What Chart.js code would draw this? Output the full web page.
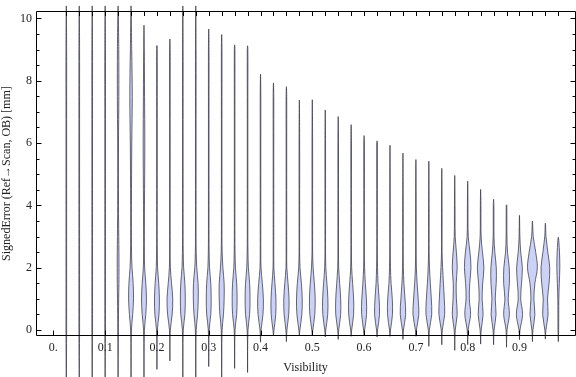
<!DOCTYPE html>
<html>
<head>
<meta charset="utf-8">
<script src="https://cdn.jsdelivr.net/npm/chart.js@4.4.1/dist/chart.umd.min.js"></script>
<style>
  body { margin: 0; background: #fff; }
</style>
</head>
<body>
<canvas id="violinChart" width="576" height="377"></canvas>
<script>
// violin centres along Visibility
const positions = [0.025, 0.05, 0.075, 0.1, 0.125, 0.15, 0.175, 0.2, 0.225, 0.25,
  0.275, 0.3, 0.325, 0.35, 0.375, 0.4, 0.425, 0.45, 0.475, 0.5,
  0.525, 0.55, 0.575, 0.6, 0.625, 0.65, 0.675, 0.7, 0.725, 0.75,
  0.775, 0.8, 0.825, 0.85, 0.875, 0.9, 0.925, 0.95, 0.975];

// top / bottom of each violin (mm)
const maxVals = [10.4, 10.4, 10.4, 10.4, 10.4, 10.4, 9.78, 9.13, 9.34, 10.4,
  10.4, 9.66, 9.48, 9.15, 9.12, 8.21, 7.93, 7.81, 7.38, 7.39,
  7.06, 6.85, 6.59, 6.24, 6.07, 5.93, 5.68, 5.47, 5.42, 5.19,
  4.96, 4.78, 4.51, 4.20, 4.02, 3.68, 3.50, 3.43, 2.98];
const minVals = [-1.7, -1.7, -1.7, -1.7, -1.7, -1.7, -1.7, -1.26, -0.99, -1.7,
  -1.7, -1.17, -1.7, -1.23, -1.36, -0.39, -0.18, -0.37, -0.16, -0.16,
  -0.22, -0.3, -0.2, -0.18, -0.22, -0.2, -0.3, -0.2, -0.52, -0.47,
  -0.65, -0.47, -0.45, -0.47, -0.55, -0.31, -0.37, -0.29, -0.37];

// density (half width) read at these levels; missing = thin tail
const levels = [0, 0.5, 1, 1.5, 2, 2.5, 3, 4, 6, 7.5, 9];
const densities = [
  [0.4, 0.4, 0.4, 0.4, 0.4, 0.4, 0.4, 0.4, 0.4, 0.4, 0.4],
  [0.4, 0.4, 0.4, 0.4, 0.4, 0.4, 0.4, 0.4, 0.4, 0.4, 0.4],
  [0.4, 0.4, 0.4, 0.4, 0.4, 0.4, 0.4, 0.4, 0.4, 0.4, 0.4],
  [0.4, 0.4, 0.4, 0.4, 0.4, 0.4, 0.4, 0.4, 0.4, 0.4, 0.4],
  [0.4, 0.5, 0.7, 1.0, 1.1, 1.0, 0.8, 0.5, 0.5, 0.9, 0.8],
  [0.5, 2.0, 3.0, 2.6, 1.2, 0.6, 0.5, 0.5, 0.9, 1.5, 0.8],
  [0.5, 2.2, 3.0, 2.2, 0.8, 0.5, 0.5, 0.6, 1.0, 0.7, 0.4],
  [0.5, 2.5, 3.0, 2.2, 0.8, 0.5],
  [0.5, 2.8, 3.5, 2.0, 0.6],
  [0.5, 2.5, 3.0, 2.5, 1.0, 0.5],
  [0.5, 2.2, 3.0, 2.8, 1.2, 0.5],
  [0.5, 2.5, 3.0, 2.5, 1.0, 0.5],
  [0.5, 2.2, 3.0, 3.0, 1.5, 0.6],
  [0.5, 2.5, 3.0, 2.5, 1.0, 0.5],
  [0.5, 2.5, 3.0, 2.5, 1.0, 0.5],
  [0.6, 3.0, 3.5, 2.2, 0.6],
  [0.6, 2.8, 3.0, 1.8, 0.5],
  [0.6, 2.8, 3.2, 2.0, 0.5],
  [0.6, 3.0, 3.5, 2.5, 0.8],
  [0.6, 3.0, 3.5, 2.5, 1.0],
  [0.6, 3.0, 3.2, 2.0, 0.7],
  [0.6, 3.0, 3.0, 1.8, 0.6],
  [0.6, 3.0, 3.0, 1.8, 0.6],
  [0.6, 3.0, 2.8, 1.5, 0.6],
  [0.6, 3.0, 2.5, 1.2, 0.6],
  [0.6, 3.0, 2.8, 1.3, 0.6],
  [0.6, 3.3, 2.5, 1.2, 0.5],
  [0.6, 3.5, 2.8, 1.5, 0.6],
  [0.6, 3.5, 3.0, 1.8, 0.8],
  [0.6, 3.5, 3.0, 2.0, 1.0],
  [0.6, 3.0, 2.0, 1.8, 3.0, 2.0, 0.6],
  [0.6, 3.5, 2.0, 2.5, 4.0, 2.8, 0.7],
  [0.6, 3.0, 1.8, 2.5, 4.0, 2.2, 0.6],
  [0.6, 3.0, 2.0, 3.2, 3.3, 1.5, 0.5],
  [0.6, 3.5, 2.0, 3.5, 3.3, 1.2, 0.5],
  [0.6, 3.8, 1.5, 2.5, 3.5, 1.5, 0.5],
  [0.6, 3.0, 1.8, 3.0, 6.0, 4.0, 1.0],
  [0.6, 3.3, 2.6, 4.5, 5.3, 3.0, 0.8],
  [0.4, 0.5, 0.6, 1.2, 1.8, 1.4, 0.5]
];

const xTickValues = [0, 0.1, 0.2, 0.3, 0.4, 0.5, 0.6, 0.7, 0.8, 0.9];
const xTickLabels = ['0.', '0.1', '0.2', '0.3', '0.4', '0.5', '0.6', '0.7', '0.8', '0.9'];
const yTickValues = [0, 2, 4, 6, 8, 10];
const yTickLabels = ['0', '2', '4', '6', '8', '10'];
const yMinorTicks = [0.5, 1, 1.5, 2.5, 3, 3.5, 4.5, 5, 5.5, 6.5, 7, 7.5, 8.5, 9, 9.5];

const widthUnit = 0.82 / 518; // one density unit in Visibility units
const thinTail = 0.35;

function violinPoints(i) {
  const pos = positions[i], lo = minVals[i], hi = maxVals[i], row = densities[i];
  const right = [];
  levels.forEach((lv, j) => {
    if (lv > lo && lv < hi) {
      const d = row[j] !== undefined ? row[j] : thinTail;
      right.push({ x: pos + d * widthUnit, y: lv, d });
    }
  });
  const pts = [{ x: pos, y: lo }];
  right.forEach(p => pts.push({ x: p.x, y: p.y }));
  pts.push({ x: pos, y: hi });
  right.slice().reverse().forEach(p => pts.push({ x: pos - p.d * widthUnit, y: p.y }));
  pts.push({ x: pos, y: lo });
  return pts;
}

const datasets = positions.map((_, i) => ({
  data: violinPoints(i),
  borderColor: 'rgba(55, 55, 68, 0.75)',
  backgroundColor: 'rgb(204, 210, 245)',
  borderWidth: 1,
  fill: 'shape',
  tension: 0.35,
  capBezierPoints: false,
  pointRadius: 0,
  clip: false
}));

const framePlugin = {
  id: 'frame',
  afterDraw(chart) {
    const { ctx, chartArea: a, scales: { x, y } } = chart;
    const L = Math.floor(a.left) + 0.5, R = Math.floor(a.right) + 0.5;
    const T = Math.floor(a.top) + 0.5, B = Math.floor(a.bottom) - 0.5;
    ctx.save();
    ctx.strokeStyle = '#000';
    ctx.lineWidth = 1;
    ctx.beginPath();
    ctx.rect(L, T, R - L, B - T);
    // bottom major ticks
    xTickValues.forEach(v => {
      const px = Math.round(x.getPixelForValue(v)) + 0.5;
      ctx.moveTo(px, B); ctx.lineTo(px, B - 5);
    });
    // top ticks at each violin
    positions.forEach(v => {
      const px = Math.round(x.getPixelForValue(v)) + 0.5;
      ctx.moveTo(px, T); ctx.lineTo(px, T + 4.5);
    });
    yTickValues.forEach(v => {
      const py = Math.round(y.getPixelForValue(v)) + 0.5;
      ctx.moveTo(L, py); ctx.lineTo(L + 5, py);
      ctx.moveTo(R, py); ctx.lineTo(R - 5, py);
    });
    yMinorTicks.forEach(v => {
      const py = Math.round(y.getPixelForValue(v)) + 0.5;
      ctx.moveTo(L, py); ctx.lineTo(L + 3, py);
      ctx.moveTo(R, py); ctx.lineTo(R - 3, py);
    });
    ctx.stroke();
    ctx.restore();
  }
};

const serif = { family: '"Liberation Serif", "DejaVu Serif", serif', size: 12 };

new Chart(document.getElementById('violinChart'), {
  type: 'line',
  data: { datasets },
  options: {
    responsive: false,
    animation: false,
    devicePixelRatio: 1,
    layout: { padding: { top: 4, right: 1, left: 0, bottom: 0 } },
    plugins: { legend: { display: false }, tooltip: { enabled: false } },
    scales: {
      x: {
        type: 'linear',
        min: -0.0335,
        max: 1.0072,
        grid: { display: false, drawTicks: false },
        border: { display: false },
        afterBuildTicks: s => { s.ticks = xTickValues.map(v => ({ value: v })); },
        afterFit: s => { s.height = 41; },
        ticks: {
          autoSkip: false,
          maxRotation: 0,
          padding: 5,
          color: '#222',
          font: serif,
          callback: v => xTickLabels[xTickValues.indexOf(Math.round(v * 10) / 10)]
        },
        title: { display: true, text: 'Visibility', color: '#222', font: serif, padding: { top: 0, bottom: 2 } }
      },
      y: {
        type: 'linear',
        min: -0.19,
        max: 10.23,
        grid: { display: false, drawTicks: false },
        border: { display: false },
        afterBuildTicks: s => { s.ticks = yTickValues.map(v => ({ value: v })); },
        afterFit: s => { s.width = 36; },
        ticks: {
          padding: 4,
          color: '#222',
          font: serif,
          callback: v => yTickLabels[yTickValues.indexOf(v)]
        },
        title: { display: true, text: 'SignedError (Ref\u2192Scan, OB) [mm]', color: '#222', font: serif, padding: 0 }
      }
    }
  },
  plugins: [framePlugin]
});
</script>
</body>
</html>
